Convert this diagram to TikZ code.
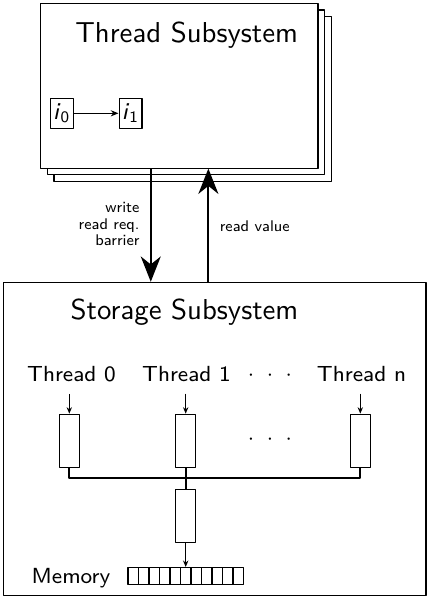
\documentclass[tikz,border=0pt]{standalone}
\usetikzlibrary{arrows.meta}
\begin{document}
\begin{tikzpicture}[x=0.375pt, y=-0.375pt, font=\sffamily, line join=round,
	bigtext/.style={font=\sffamily\fontsize{10.8}{13}\selectfont},
	midtext/.style={font=\sffamily\fontsize{8.2}{10}\selectfont},
	smalltext/.style={font=\sffamily\fontsize{5.8}{6.26}\selectfont},
	instr/.style={draw, minimum width=8.6pt, minimum height=11.25pt, inner sep=0pt, font=\sffamily\fontsize{9}{11}\selectfont},
	buffer/.style={draw, fill=white, minimum width=7.5pt, minimum height=19.9pt, inner sep=0pt},
	cell/.style={draw, minimum width=3.94pt, minimum height=6.4pt, inner sep=0pt},
	bigarrow/.style={line width=0.75pt, -{Stealth[length=9.5pt, width=7.5pt, inset=3pt]}},
	smallarrow/.style={-{Stealth[length=2.4pt, width=2pt]}},
	bus/.style={line width=0.75pt}]
	\useasboundingbox (0,0) rectangle (428,597);
	% thread subsystem (stacked copies)
	\draw[fill=white] (54,16.7) rectangle (331.3,181.3);
	\draw[fill=white] (47.3,10) rectangle (324.7,174.7);
	\node[draw, fill=white, minimum width=104pt, minimum height=61.75pt] (thread) at (179.3,85.7) {};
	\node[bigtext, anchor=base] (ttitle) at (186.7,42.7) {Thread Subsystem};
	\node[instr] (i0) at (61.7,113.3) {\textit{i}$_{\mathsf{0}}$};
	\node[instr] (i1) at (130.5,113.3) {\textit{i}$_{\mathsf{1}}$};
	\draw[-{Stealth[length=2.9pt, width=2.3pt]}] (i0) -- (i1);
	% storage subsystem
	\node[draw, minimum width=158.6pt, minimum height=117.45pt] (storage) at (214.5,438.9) {};
	\node[bigtext, anchor=base] (stitle) at (184.5,319.3) {Storage Subsystem};
	% between the two
	\coordinate (wr) at ([xshift=-10.7pt]thread.south);
	\coordinate (rd) at ([xshift=10.9pt]thread.south);
	\draw[bigarrow] (wr) -- (wr |- storage.north);
	\draw[bigarrow] (rd |- storage.north) -- (rd);
	\node[smalltext, align=right, anchor=east, inner sep=0pt] (wlab) at (140,224) {write\\read req.\\barrier};
	\node[smalltext, anchor=base west, inner sep=0pt] (rlab) at (219.3,231.7) {read value};
	% per thread buffers
	\node[midtext, anchor=base] (t0) at (71.5,381) {Thread 0};
	\node[midtext, anchor=base] (t1) at (186.5,381) {Thread 1};
	\node[midtext] (tdots) at (270,376) {$\cdot\mkern6mu\cdot\mkern6mu\cdot$};
	\node[midtext, anchor=base] (tn) at (361.5,381) {Thread n};
	\node[buffer] (b0) at (69.3,440.7) {};
	\node[buffer] (b1) at (185.7,440.7) {};
	\node[buffer] (bn) at (360.3,440.7) {};
	\node[midtext] (bdots) at (270,440) {$\cdot\mkern6mu\cdot\mkern6mu\cdot$};
	\draw[smallarrow] (t0.south -| b0.north) ++(0,3) -- (b0.north);
	\draw[smallarrow] (t1.south -| b1.north) ++(0,3) -- (b1.north);
	\draw[smallarrow] (tn.south -| bn.north) ++(0,3) -- (bn.north);
	% bus and memory
	\coordinate (join) at (185.7,478.3);
	\node[buffer] (m) at (185.7,515.8) {};
	\draw[bus] (b0.south) |- (join) -| (bn.south);
	\draw[bus] (b1.south) -- (m.north);
	\foreach \i in {1,...,11}
		\node[cell] (c\i) at ({128+10.5*(\i-0.5)},576) {};
	\node[midtext, anchor=base] (mem) at (71,583) {Memory};
	\draw[smallarrow] (m.south) -- (m.south |- c6.north);
\end{tikzpicture}
\end{document}
